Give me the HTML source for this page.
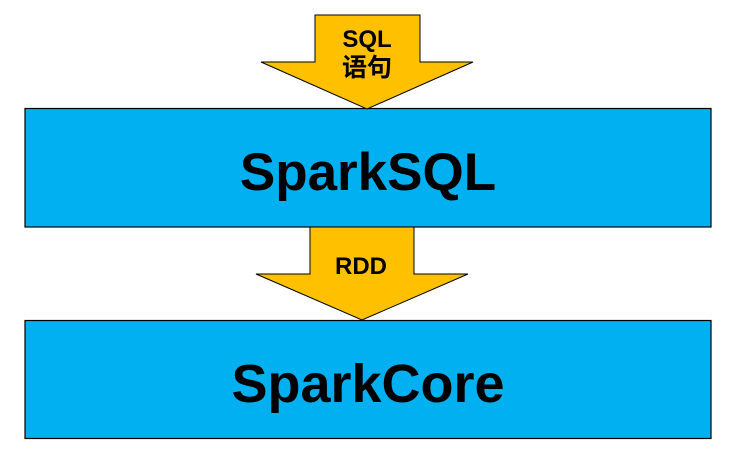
<!DOCTYPE html>
<html><head><meta charset="utf-8"><style>
html,body{margin:0;padding:0;background:#fff;width:733px;height:460px;overflow:hidden}
svg{display:block}
text{font-family:"Liberation Sans","Noto Sans CJK SC",sans-serif;font-weight:bold;fill:#000}
</style></head><body>
<svg width="733" height="460" viewBox="0 0 733 460">
<rect x="25" y="108.5" width="686" height="118.5" fill="#00b0f0" stroke="#000" stroke-width="1.2"/>
<rect x="25" y="320.5" width="686" height="118" fill="#00b0f0" stroke="#000" stroke-width="1.2"/>
<polygon points="315,15 420,15 420,62 473,62 367,109 261,62 315,62" fill="#ffc000" stroke="#000" stroke-width="1"/>
<polygon points="310,227 414,227 414,274 468,274 362,320 256,274 310,274" fill="#ffc000" stroke="#000" stroke-width="1"/>
<text x="367" y="47" font-size="24" text-anchor="middle">SQL</text>
<text x="367" y="76" font-size="25" text-anchor="middle">语句</text>
<text x="361" y="274" font-size="24" text-anchor="middle">RDD</text>
<text x="368" y="190" font-size="53" text-anchor="middle">SparkSQL</text>
<text x="368" y="402" font-size="54" text-anchor="middle">SparkCore</text>
</svg>
</body></html>
